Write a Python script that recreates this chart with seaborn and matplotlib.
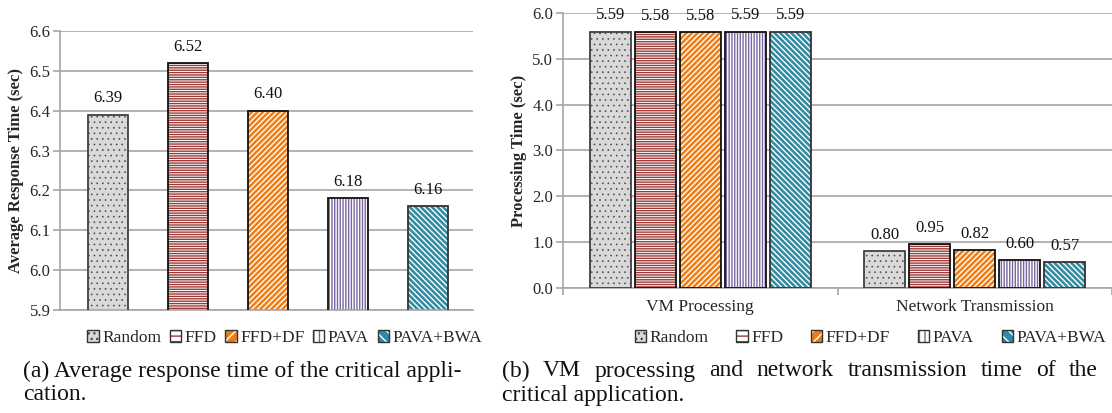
import matplotlib
matplotlib.use("Agg")
import matplotlib.pyplot as plt
import seaborn as sns
import pandas as pd
from matplotlib.patches import Patch, Rectangle

# data
methods = ['Random', 'FFD', 'FFD+DF', 'PAVA', 'PAVA+BWA']
avg_response = [6.39, 6.52, 6.40, 6.18, 6.16]
stages = ['VM Processing', 'Network Transmission']
vm_processing = [5.59, 5.58, 5.58, 5.59, 5.59]
network_trans = [0.80, 0.95, 0.82, 0.60, 0.57]

left_ticks = [5.9, 6.0, 6.1, 6.2, 6.3, 6.4, 6.5, 6.6]
right_ticks = [0, 1, 2, 3, 4, 5, 6]

caption_a = ["(a) Average response time of the critical appli-", "cation."]
caption_b = ["(b) VM processing and network transmission time of the", "critical application."]

# look of each method: face, hatch colour, hatch, border
face = {'Random': '#d9d9d9', 'FFD': '#ffffff', 'FFD+DF': '#ef7d13',
        'PAVA': '#ffffff', 'PAVA+BWA': '#2f8aa3'}
hcol = {'Random': '#4a4a4a', 'FFD': '#9b3a38', 'FFD+DF': '#ffffff',
        'PAVA': '#7a65a0', 'PAVA+BWA': '#ffffff'}
hatch = {'Random': '...', 'FFD': '-------', 'FFD+DF': '//////',
         'PAVA': '||||||', 'PAVA+BWA': '\\\\\\\\\\\\'}
hatch_lw = {'Random': 0.45, 'FFD': 1.0, 'FFD+DF': 1.0, 'PAVA': 1.0, 'PAVA+BWA': 1.0}
border = {'Random': '#404040', 'FFD': '#111111', 'FFD+DF': '#111111',
          'PAVA': '#111111', 'PAVA+BWA': '#333333'}

sns.set_style("white")
plt.rcParams['font.family'] = ['Liberation Serif', 'DejaVu Serif']
plt.rcParams['hatch.linewidth'] = 1.0

df_a = pd.DataFrame({'method': methods, 'time': avg_response})
df_b = pd.DataFrame({
    'stage': [s for s in stages for _ in methods],
    'method': methods * 2,
    'time': vm_processing + network_trans,
})

fig = plt.figure(figsize=(11.12, 4.13), dpi=100)
ax1 = fig.add_axes([0.054, 0.2494, 0.3714, 0.6755])
ax2 = fig.add_axes([0.5063, 0.3027, 0.4937, 0.666])

sns.barplot(data=df_a, x='method', y='time', hue='method', hue_order=methods,
            palette=[face[m] for m in methods], width=0.5, dodge=False,
            errorbar=None, legend=False, ax=ax1)
sns.barplot(data=df_b, x='stage', y='time', hue='method', hue_order=methods,
            palette=[face[m] for m in methods], width=0.82, gap=0.08,
            errorbar=None, legend=False, ax=ax2)


def set_hatch_lw(p, lw):
    if hasattr(p, 'set_hatch_linewidth'):
        p.set_hatch_linewidth(lw)
    else:
        p._hatch_linewidth = lw


def style_bars(ax):
    for cont, m in zip(ax.containers, methods):
        for bar in cont:
            bar.set_facecolor(face[m])
            bar.set_edgecolor(hcol[m])
            bar.set_hatch(hatch[m])
            set_hatch_lw(bar, hatch_lw[m])
            bar.set_linewidth(0)
            bar.set_zorder(2)
            ax.add_patch(Rectangle(bar.get_xy(), bar.get_width(), bar.get_height(),
                                   fill=False, edgecolor=border[m], linewidth=1.3, zorder=3))
        ax.bar_label(cont, fmt='%.2f', padding=6, fontsize=12, color='#111111')


style_bars(ax1)
style_bars(ax2)

grid_col = '#a6a6a6'
for ax in (ax1, ax2):
    ax.set_axisbelow(True)
    ax.yaxis.grid(True, color=grid_col, linewidth=1.2)
    for s in ('top', 'right'):
        ax.spines[s].set_visible(False)
    for s in ('left', 'bottom'):
        ax.spines[s].set_color(grid_col)
        ax.spines[s].set_linewidth(1.2)
    ax.tick_params(axis='y', which='major', left=True, length=5, width=1.2,
                   color=grid_col, labelsize=12, pad=2)
    ax.set_xlabel('')

ax1.set_ylim(5.9, 6.6)
ax1.set_yticks(left_ticks)
ax1.set_yticklabels([f'{t:.1f}' for t in left_ticks])
ax1.set_xlim(-0.6, 4.56)
ax1.set_xticks([])
ax1.set_ylabel('Average Response Time (sec)', fontsize=12, fontweight='bold', labelpad=4)

ax2.set_ylim(0, 6)
ax2.set_yticks(right_ticks)
ax2.set_yticklabels([f'{t:.1f}' for t in right_ticks])
ax2.set_xlim(-0.5, 1.5)
ax2.set_xticks([0, 1])
ax2.set_xticklabels(stages)
ax2.set_xticks([-0.5, 0.5, 1.5], minor=True)
ax2.tick_params(axis='x', which='major', length=0, labelsize=12.5, pad=8)
ax2.tick_params(axis='x', which='minor', bottom=True, length=5, width=1.2, color=grid_col)
ax2.set_ylabel('Processing Time (sec)', fontsize=12, fontweight='bold', labelpad=4)

# legend keys: hatched square with a dark outline on top
handles = []
for m in methods:
    fill = Patch(facecolor=face[m], edgecolor=hcol[m], hatch=hatch[m][:3], linewidth=0)
    set_hatch_lw(fill, hatch_lw[m])
    edge = Patch(facecolor='none', edgecolor='#333333', linewidth=1.0)
    handles.append((fill, edge))
leg_kw = dict(ncol=5, frameon=False, fontsize=12.5, handlelength=0.65, handleheight=0.65,
              handletextpad=0.2, borderpad=0, borderaxespad=0)
fig.legend(handles, methods, loc='center', bbox_to_anchor=(0.256, 0.182),
           columnspacing=0.5, **leg_kw)
fig.legend(handles, methods, loc='center right', bbox_to_anchor=(1106 / 1112, 0.182),
           columnspacing=1.6, **leg_kw)

# captions
cap_kw = dict(fontsize=17, va='center', ha='left', color='#111111')
fig.text(0.0207, 1 - 371 / 413, caption_a[0], **cap_kw)
fig.text(0.0207, 1 - 395 / 413, caption_a[1], **cap_kw)

# justified first line of caption (b)
renderer = fig.canvas.get_renderer()
words = caption_b[0].split()
x0, x1 = 502 / 1112, 1098 / 1112
pieces = [fig.text(0, 1 - 371 / 413, w, **cap_kw) for w in words]
widths = [p.get_window_extent(renderer).width / fig.bbox.width for p in pieces]
gap = (x1 - x0 - sum(widths)) / (len(words) - 1)
x = x0
for p, w in zip(pieces, widths):
    p.set_x(x)
    x += w + gap
fig.text(x0, 1 - 395 / 413, caption_b[1], **cap_kw)

fig.savefig('out.png', dpi=100)
